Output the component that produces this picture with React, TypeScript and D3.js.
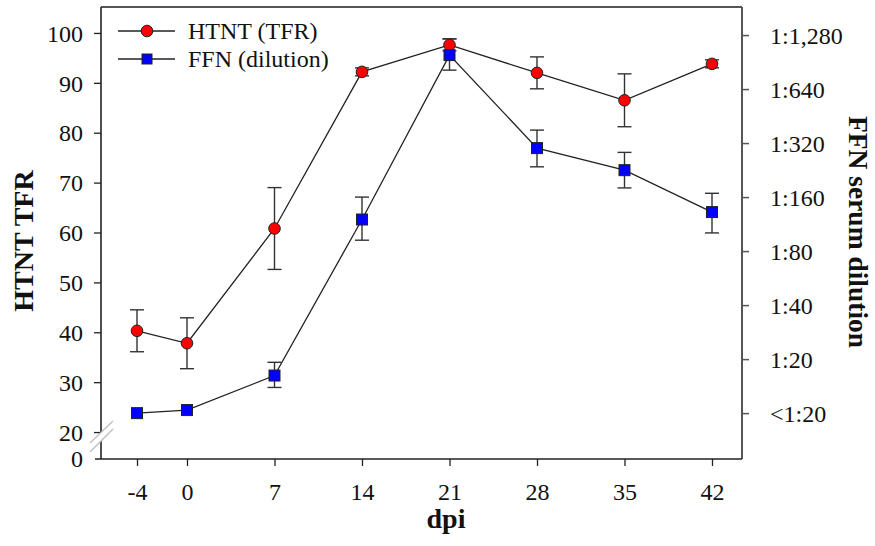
import React, { useEffect, useRef } from 'react';
import * as d3 from 'd3';

// days post infection
const dpi = [-4, 0, 7, 14, 21, 28, 35, 42];

// HTNT TFR (%) mean and error
const htntMean = [40.3, 37.8, 60.8, 92.2, 97.6, 92.0, 86.5, 93.8];
const htntErr = [4.2, 5.1, 8.2, 0.8, 1.2, 3.2, 5.3, 0.8];

// FFN reciprocal serum dilution (geometric mean) with upper/lower bounds
const ffnTiter = [10, 10.4, 16.2, 120, 990, 300, 226, 132];
const ffnUpper = [10, 10.4, 19.2, 160, 1220, 378, 284, 168];
const ffnLower = [10, 10.4, 13.9, 92, 816, 236, 180, 101];

const leftTicks = [20, 30, 40, 50, 60, 70, 80, 90, 100];
const rightTicks = [10, 20, 40, 80, 160, 320, 640, 1280];
const rightLabels = ['<1:20', '1:20', '1:40', '1:80', '1:160', '1:320', '1:640', '1:1,280'];

const FONT = '"Liberation Serif", "Times New Roman", serif';

export default function App() {
  const ref = useRef<SVGSVGElement>(null);

  useEffect(() => {
    const width = 875;
    const height = 546;
    const margin = { top: 7, right: 133, bottom: 87, left: 101 };
    const svg = d3.select(ref.current);
    svg.selectAll('*').remove();

    const x = d3.scaleLinear().domain([-6.88, 44.4]).range([margin.left, width - margin.right]);
    const yL = d3.scaleLinear().domain([14.6, 105.2]).range([height - margin.bottom, margin.top]);
    const yR = d3.scaleLog().base(2).domain([5.55, 1835]).range([height - margin.bottom, margin.top]);

    const x0 = margin.left;
    const x1 = width - margin.right;
    const yb = height - margin.bottom;

    // frame: top and right
    svg.append('line').attr('x1', x0).attr('x2', x1).attr('y1', margin.top).attr('y2', margin.top)
      .attr('stroke', '#555').attr('stroke-width', 2);
    svg.append('line').attr('x1', x1).attr('x2', x1).attr('y1', margin.top).attr('y2', yb)
      .attr('stroke', '#555').attr('stroke-width', 2);

    // bottom axis
    const xAxis = svg.append('g').attr('transform', `translate(0,${yb})`)
      .call(d3.axisBottom(x).tickValues(dpi).tickSize(7).tickSizeOuter(0).tickFormat(d => String(d)));
    xAxis.select('.domain').remove();
    xAxis.selectAll('.tick line').attr('stroke', '#222').attr('stroke-width', 1.3);
    xAxis.selectAll('.tick text').attr('font-family', FONT).attr('font-size', 24).attr('fill', '#111').attr('dy', 0)
      .attr('y', 41);
    svg.append('line').attr('x1', x0 - 6).attr('x2', x1).attr('y1', yb).attr('y2', yb)
      .attr('stroke', '#222').attr('stroke-width', 1.6);

    // left axis
    const yAxis = svg.append('g').attr('transform', `translate(${x0},0)`)
      .call(d3.axisLeft(yL).tickValues(leftTicks).tickSize(7).tickSizeOuter(0));
    yAxis.select('.domain').remove();
    yAxis.selectAll('.tick line').attr('stroke', '#222').attr('stroke-width', 1.3);
    yAxis.selectAll('.tick text').attr('font-family', FONT).attr('font-size', 24).attr('fill', '#111')
      .attr('x', -18).attr('dy', '0.34em');
    svg.append('line').attr('x1', x0).attr('x2', x0).attr('y1', margin.top).attr('y2', yb)
      .attr('stroke', '#222').attr('stroke-width', 1.6);
    // "0" at the bottom of the broken axis
    svg.append('text').attr('x', x0 - 18).attr('y', yb).attr('dy', '0.34em').attr('text-anchor', 'end')
      .attr('font-family', FONT).attr('font-size', 24).attr('fill', '#111').text('0');

    // axis break
    const brk = [[90, 443], [113, 421], [113, 429], [90, 452]];
    svg.append('polygon').attr('points', brk.map(p => p.join(',')).join(' ')).attr('fill', '#fff');
    svg.append('line').attr('x1', 90).attr('y1', 443).attr('x2', 113).attr('y2', 421)
      .attr('stroke', '#bbb').attr('stroke-width', 1.2);
    svg.append('line').attr('x1', 90).attr('y1', 452).attr('x2', 113).attr('y2', 429)
      .attr('stroke', '#bbb').attr('stroke-width', 1.2);

    // right axis
    const rAxis = svg.append('g').attr('transform', `translate(${x1},0)`)
      .call(d3.axisRight(yR).tickValues(rightTicks).tickSize(7).tickSizeOuter(0)
        .tickFormat((d, i) => rightLabels[i]));
    rAxis.select('.domain').remove();
    rAxis.selectAll('.tick line').attr('stroke', '#555').attr('stroke-width', 1.5);
    rAxis.selectAll('.tick text').attr('font-family', FONT).attr('font-size', 24).attr('fill', '#111')
      .attr('x', 28).attr('dy', '0.34em');

    // axis titles
    svg.append('text').attr('transform', `translate(33,241) rotate(-90)`).attr('text-anchor', 'middle')
      .attr('font-family', FONT).attr('font-weight', 'bold').attr('font-size', 28).attr('fill', '#111')
      .text('HTNT TFR');
    svg.append('text').attr('transform', `translate(849,232) rotate(90)`).attr('text-anchor', 'middle')
      .attr('font-family', FONT).attr('font-weight', 'bold').attr('font-size', 27.5).attr('fill', '#111')
      .text('FFN serum dilution');
    svg.append('text').attr('x', 446).attr('y', 528).attr('text-anchor', 'middle')
      .attr('font-family', FONT).attr('font-weight', 'bold').attr('font-size', 28).attr('fill', '#111')
      .text('dpi');

    const htnt = dpi.map((d, i) => ({ d, v: htntMean[i], e: htntErr[i] }));
    const ffn = dpi.map((d, i) => ({ d, v: ffnTiter[i], hi: ffnUpper[i], lo: ffnLower[i] }));

    const lineL = d3.line<any>().x(p => x(p.d)).y(p => yL(p.v));
    const lineR = d3.line<any>().x(p => x(p.d)).y(p => yR(p.v));

    svg.append('path').datum(htnt).attr('d', lineL).attr('fill', 'none')
      .attr('stroke', '#222').attr('stroke-width', 1.3);
    svg.append('path').datum(ffn).attr('d', lineR).attr('fill', 'none')
      .attr('stroke', '#222').attr('stroke-width', 1.3);

    const cap = 7;
    const errBars = (data: { d: number; top: number; bot: number }[]) => {
      const g = svg.append('g').attr('stroke', '#333').attr('stroke-width', 1.4);
      data.filter(p => p.bot - p.top > 1).forEach(p => {
        const cx = x(p.d);
        g.append('line').attr('x1', cx).attr('x2', cx).attr('y1', p.top).attr('y2', p.bot);
        g.append('line').attr('x1', cx - cap).attr('x2', cx + cap).attr('y1', p.top).attr('y2', p.top);
        g.append('line').attr('x1', cx - cap).attr('x2', cx + cap).attr('y1', p.bot).attr('y2', p.bot);
      });
    };
    errBars(htnt.map(p => ({ d: p.d, top: yL(p.v + p.e), bot: yL(p.v - p.e) })));
    errBars(ffn.map(p => ({ d: p.d, top: yR(p.hi), bot: yR(p.lo) })));

    svg.append('g').selectAll('circle').data(htnt).join('circle')
      .attr('cx', p => x(p.d)).attr('cy', p => yL(p.v)).attr('r', 5.8)
      .attr('fill', '#ff0000').attr('stroke', '#222').attr('stroke-width', 1);
    const s = 11;
    svg.append('g').selectAll('rect').data(ffn).join('rect')
      .attr('x', p => x(p.d) - s / 2).attr('y', p => yR(p.v) - s / 2).attr('width', s).attr('height', s)
      .attr('fill', '#0000ff').attr('stroke', '#222').attr('stroke-width', 1);

    // legend
    const lg = svg.append('g').attr('font-family', FONT).attr('font-size', 24).attr('fill', '#111');
    const rows = [
      { label: 'HTNT (TFR)', y: 31, shape: 'circle' },
      { label: 'FFN (dilution)', y: 59, shape: 'rect' },
    ];
    rows.forEach(r => {
      lg.append('line').attr('x1', 118).attr('x2', 175).attr('y1', r.y).attr('y2', r.y)
        .attr('stroke', '#222').attr('stroke-width', 1.3);
      if (r.shape === 'circle') {
        lg.append('circle').attr('cx', 147).attr('cy', r.y).attr('r', 5.8)
          .attr('fill', '#ff0000').attr('stroke', '#222');
      } else {
        lg.append('rect').attr('x', 147 - 5).attr('y', r.y - 5).attr('width', 10).attr('height', 10)
          .attr('fill', '#0000ff').attr('stroke', '#222');
      }
      lg.append('text').attr('x', 188).attr('y', r.y).attr('dy', '0.34em').text(r.label);
    });
  }, []);

  return (
    <svg ref={ref} width={875} height={546}
      style={{ position: 'absolute', left: 0, top: 0, background: '#fff' }} />
  );
}
